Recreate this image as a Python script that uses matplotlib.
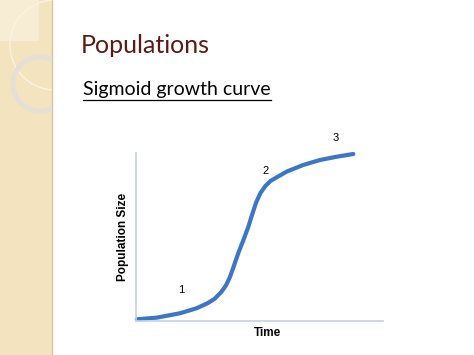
import numpy as np
import matplotlib.pyplot as plt
from matplotlib.patches import Rectangle, Circle
from matplotlib.lines import Line2D

# sigmoid curve (arbitrary units, 0-10 on both axes)
time = [0.05, 0.86, 1.80, 2.47, 2.93, 3.21, 3.45, 3.64, 3.80, 3.96, 4.15,
        4.36, 4.55, 4.72, 4.88, 5.05, 5.25, 5.45, 5.76, 6.12, 6.78, 7.45,
        8.13, 8.80]
population = [0.10, 0.20, 0.46, 0.76, 1.07, 1.34, 1.70, 2.08, 2.56, 3.21, 4.03,
              4.82, 5.57, 6.37, 7.08, 7.62, 8.04, 8.33, 8.60, 8.90, 9.29, 9.58,
              9.78, 9.94]
phase_labels = ['1', '2', '3']
phase_x = [1.86, 5.24, 8.1]
phase_y = [1.85, 8.9, 10.9]

W, H = 474, 355
fig = plt.figure(figsize=(W / 100, H / 100), dpi=100)
fig.patch.set_facecolor('white')

# decorative band on the left
bg = fig.add_axes([0, 0, 1, 1])
bg.set_xlim(0, W)
bg.set_ylim(H, 0)
bg.axis('off')
bg.add_patch(Rectangle((0, 0), 52, H, color='#f3e3bf', zorder=0))
bg.add_patch(Rectangle((0, 0), 38, 40, color='#f7ecd4', zorder=0))
bg.add_line(Line2D([52, 52], [0, H], color='#d6c6a2', lw=1.0, zorder=1))
band = Rectangle((0, 0), 52, H, transform=bg.transData)
c1 = Circle((55, 45), 45, fill=False, ec='#fbf3e2', lw=1.0, zorder=2)
c2 = Circle((40, 84), 27, fill=False, ec='#e4e0d6', lw=3.5, zorder=2)
for c in (c1, c2):
    bg.add_patch(c)
    c.set_clip_path(band)

# titles
fig.text(81 / W, 1 - 53 / H, 'Populations', fontsize=18, color='#5b1a12',
         family='Lato', va='baseline', ha='left')
sub = fig.text(83 / W, 1 - 95 / H, 'Sigmoid growth curve', fontsize=14,
               color='black', family='Lato', va='baseline', ha='left')
fig.canvas.draw()
bb = sub.get_window_extent()
x0, x1 = bb.x0 / W, bb.x1 / W
fig.add_artist(Line2D([x0, x1], [1 - 100 / H, 1 - 100 / H], color='black',
                      lw=0.9, transform=fig.transFigure))

# chart
ax = fig.add_axes([135.5 / W, 1 - 321 / H, 247.5 / W, 168 / H])
ax.set_xlim(0, 10)
ax.set_ylim(0, 10)
ax.plot(time, population, color='#3d76c6', lw=3.0, solid_capstyle='round',
        solid_joinstyle='round', clip_on=False)
for lab, x, y in zip(phase_labels, phase_x, phase_y):
    ax.text(x, y, lab, fontsize=8, family='Liberation Sans', ha='center',
            va='center')
for s in ['top', 'right']:
    ax.spines[s].set_visible(False)
for s in ['left', 'bottom']:
    ax.spines[s].set_color('#c4d2e2')
    ax.spines[s].set_linewidth(1.2)
ax.set_xticks([])
ax.set_yticks([])
ax.patch.set_alpha(0)
ax.set_xlabel('Time', fontsize=8.5, fontweight='bold', family='Liberation Sans')
ax.xaxis.set_label_coords((267.5 - 135.5) / 247.5, -(333 - 321) / 168, transform=ax.transAxes)
ax.xaxis.label.set_va('center')
ax.set_ylabel('Population Size', fontsize=8.5, fontweight='bold',
              family='Liberation Sans')
ax.yaxis.set_label_coords(-(135.5 - 123) / 247.5, (321 - 237) / 168, transform=ax.transAxes)
ax.yaxis.label.set_va('center')

fig.savefig('out.png', dpi=100)
